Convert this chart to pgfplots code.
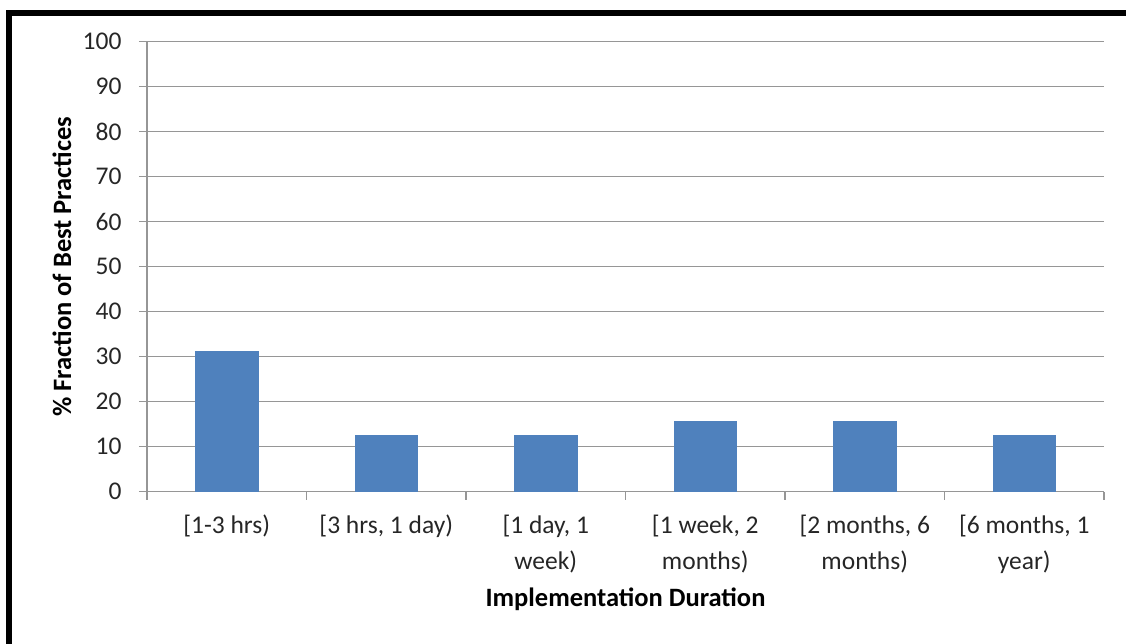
\documentclass[border=0pt]{standalone}
\usepackage{pgfplots}
\pgfplotsset{compat=1.18}
\usepackage{fontspec}
\setmainfont{Carlito}
\definecolor{barblue}{HTML}{4F81BD}
\definecolor{gridgray}{HTML}{969696}

\begin{document}
\begin{tikzpicture}
\useasboundingbox (0pt,0pt) rectangle (1126pt,644pt);
\draw[line width=6pt,line join=miter] (9pt,0pt) -- (9pt,631pt) -- (1126pt,631pt);
\begin{axis}[
  at={(147pt,152.3pt)}, anchor=south west,
  scale only axis, width=957pt, height=450pt,
  xmin=0.5, xmax=6.5, ymin=0, ymax=100,
  ytick={0,10,...,100},
  xtick={1,...,6},
  xticklabels={{[1-3 hrs)},{[3 hrs, 1 day)},{[1 day, 1\\week)},{[1 week, 2\\months)},{[2 months, 6\\months)},{[6 months, 1\\year)}},
  minor xtick={0.5,1.5,...,6.5},
  major x tick style={draw=none},
  tick align=outside,
  major tick length=8pt, minor tick length=8pt,
  every tick/.style={gridgray, line width=1.3pt},
  axis x line*=bottom, axis y line*=left,
  axis line style={gridgray, line width=1.3pt, -},
  ymajorgrids,
  major grid style={gridgray, line width=1.3pt},
  /pgf/number format/assume math mode=true,
  ticklabel style={font=\fontsize{25.5}{36}\selectfont, text=black!85},
  xticklabel style={align=center, yshift=-12pt},
  yticklabel style={xshift=-14pt},
  xlabel={\textbf{Implementation Duration}},
  ylabel={\textbf{\% Fraction of Best Practices}},
  label style={font=\fontsize{26.5}{30}\selectfont},
  xlabel style={at={(axis description cs:0.5,0)}, anchor=center, yshift=-108pt},
  ylabel style={at={(axis description cs:0,0.5)}, anchor=center, yshift=85pt},
  ybar, bar width=0.39,
]
\addplot[fill=barblue, draw=barblue] coordinates {
  (1,31.25) (2,12.5) (3,12.5) (4,15.625) (5,15.625) (6,12.5)
};
\end{axis}
\end{tikzpicture}
\end{document}
